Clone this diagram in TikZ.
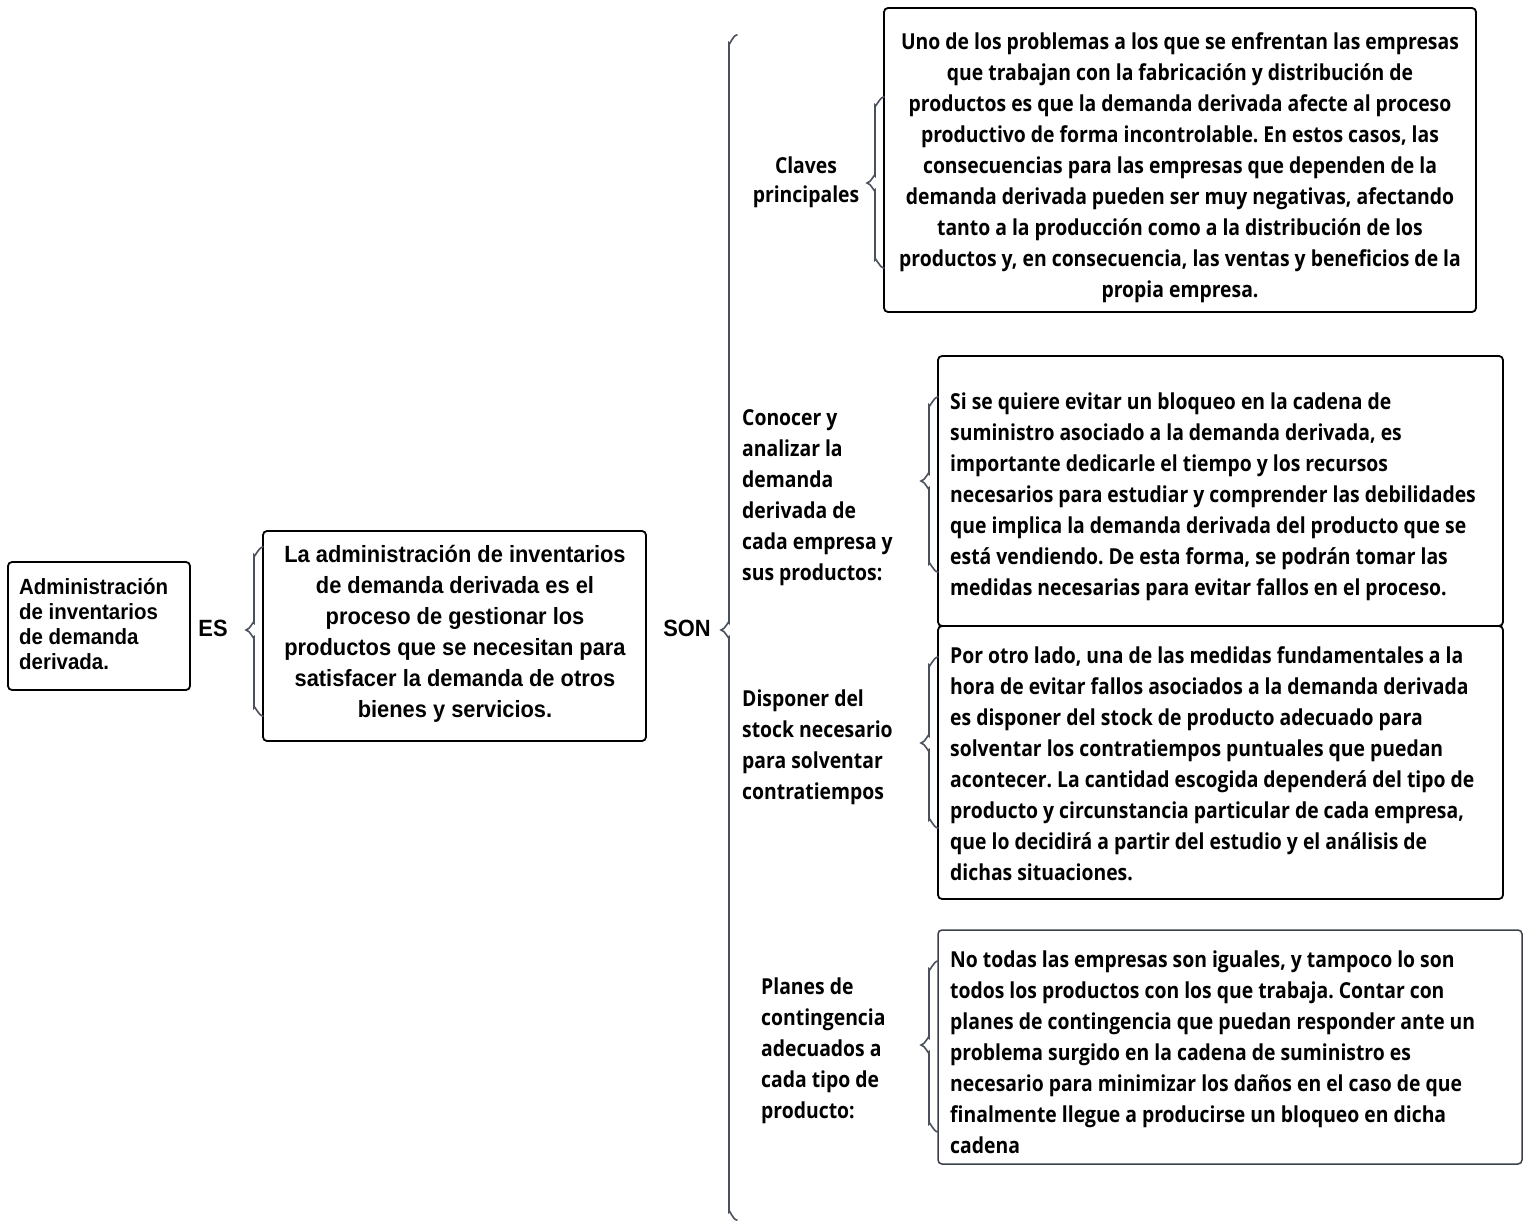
\documentclass[tikz,border=0pt]{standalone}
\usepackage{fontspec}
\setmainfont{Open Sans}[FakeStretch=0.88]
\newfontfamily\arialfont{Liberation Sans}[FakeStretch=0.93]
\definecolor{bracecol}{RGB}{74,80,92}
\definecolor{grayborder}{RGB}{60,64,72}
\frenchspacing
\begin{document}
\begin{tikzpicture}[x=1pt,y=-1pt,
  box/.style={draw=black, line width=1.8pt, rounded corners=4pt, inner sep=0pt},
  brc/.style={draw=bracecol, line width=1.6pt, line cap=round},
  otxt/.style={font={\fontsize{22}{31}\selectfont\bfseries}, text=black, inner sep=0pt},
  atxt/.style={font={\arialfont\fontsize{23.5}{31}\selectfont\bfseries}, text=black, inner sep=0pt},
]
\useasboundingbox (0,0) rectangle (1524,1222);
\newcommand{\vbrace}[5]{%
  \draw[brc] (#1+#5,#2) to[out=180,in=-90] (#1,#2+8) -- (#1,#4-7)
    to[out=90,in=0] (#1-8,#4) to[out=0,in=-90] (#1,#4+7) -- (#1,#3-8)
    to[out=90,in=180] (#1+#5,#3);}

% boxes
\node[box, minimum width=182, minimum height=128] (b1) at (99,626) {};
\node[box, minimum width=383, minimum height=210] (b2) at (454.5,636) {};
\node[box, minimum width=592, minimum height=304] (b3) at (1180,160) {};
\node[box, minimum width=565, minimum height=270] (b4) at (1220.5,491) {};
\node[box, minimum width=565, minimum height=273] (b5) at (1220.5,762.5) {};
\node[box, draw=grayborder, line width=1.5pt, minimum width=584, minimum height=234] (b6) at (1230,1047) {};

% braces
\vbrace{254}{547}{716}{630}{9}
\vbrace{729}{35}{1220}{630}{8}
\vbrace{875}{97}{268}{183}{9}
\vbrace{929}{397}{572}{481}{9}
\vbrace{929}{657}{828}{743}{9}
\vbrace{929}{961}{1132}{1045}{9}

% texts
\node[atxt, font={\arialfont\fontsize{22}{24.7}\selectfont\bfseries}, align=left, anchor=west] (t1) at (19,624)
 {Administración\\de inventarios\\de demanda\\derivada.};
\node[atxt] (es) at (213,628) {ES};
\node[atxt, align=center] (t2) at (455,634)
 {La administración de inventarios\\de demanda derivada es el\\proceso de gestionar los\\productos que se necesitan para\\satisfacer la demanda de otros\\bienes y servicios.};
\node[atxt] (son) at (687,628) {SON};

\node[otxt, align=center, font={\fontsize{22}{29}\selectfont\bfseries}] (c1) at (806,182.5) {Claves\\principales};
\node[otxt, align=center] (t3) at (1180,167.5)
 {Uno de los problemas a los que se enfrentan las empresas\\que trabajan con la fabricación y distribución de\\productos es que la demanda derivada afecte al proceso\\productivo de forma incontrolable. En estos casos, las\\consecuencias para las empresas que dependen de la\\demanda derivada pueden ser muy negativas, afectando\\tanto a la producción como a la distribución de los\\productos y, en consecuencia, las ventas y beneficios de la\\propia empresa.};

\node[otxt, align=left, anchor=west] (c2) at (742,498)
 {Conocer y\\analizar la\\demanda\\derivada de\\cada empresa y\\sus productos:};
\node[otxt, align=left, anchor=west] (t4) at (950,497)
 {Si se quiere evitar un bloqueo en la cadena de\\suministro asociado a la demanda derivada, es\\importante dedicarle el tiempo y los recursos\\necesarios para estudiar y comprender las debilidades\\que implica la demanda derivada del producto que se\\está vendiendo. De esta forma, se podrán tomar las\\medidas necesarias para evitar fallos en el proceso.};

\node[otxt, align=left, anchor=west] (c3) at (742,747.5)
 {Disponer del\\stock necesario\\para solventar\\contratiempos};
\node[otxt, align=left, anchor=west] (t5) at (950,763.5)
 {Por otro lado, una de las medidas fundamentales a la\\hora de evitar fallos asociados a la demanda derivada\\es disponer del stock de producto adecuado para\\solventar los contratiempos puntuales que puedan\\acontecer. La cantidad escogida dependerá del tipo de\\producto y circunstancia particular de cada empresa,\\que lo decidirá a partir del estudio y el análisis de\\dichas situaciones.};

\node[otxt, align=left, anchor=west] (c4) at (761,1051)
 {Planes de\\contingencia\\adecuados a\\cada tipo de\\producto:};
\node[otxt, align=left, anchor=west] (t6) at (950,1052)
 {No todas las empresas son iguales, y tampoco lo son\\todos los productos con los que trabaja. Contar con\\planes de contingencia que puedan responder ante un\\problema surgido en la cadena de suministro es\\necesario para minimizar los daños en el caso de que\\finalmente llegue a producirse un bloqueo en dicha\\cadena};
\end{tikzpicture}
\end{document}
